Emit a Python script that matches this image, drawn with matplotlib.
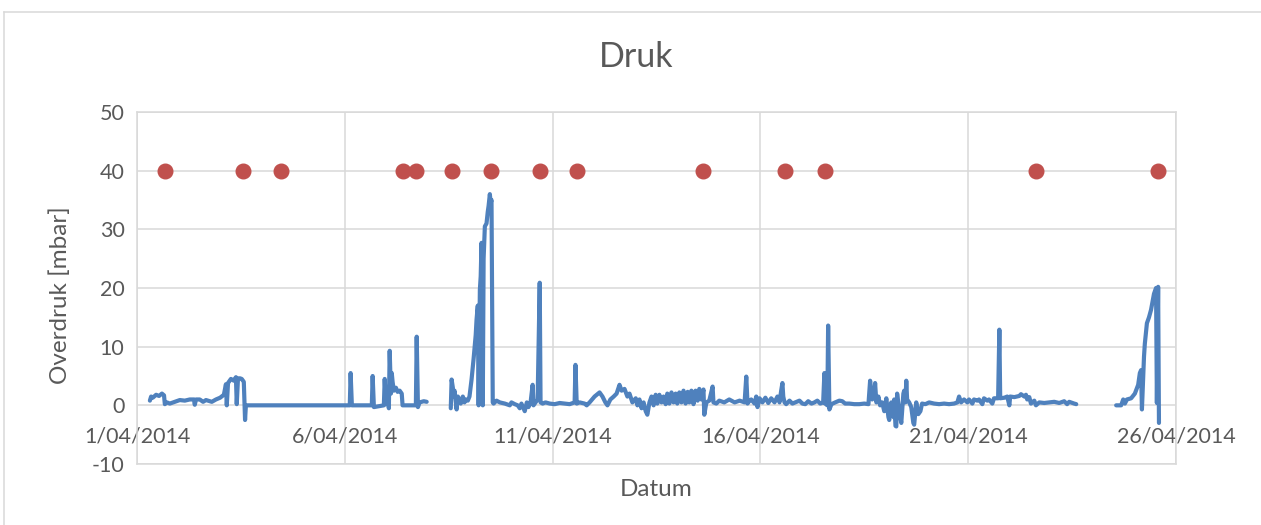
import numpy as np
import matplotlib
matplotlib.use("Agg")
import matplotlib.pyplot as plt
from matplotlib.lines import Line2D

# ---- data (time in days since 1/04/2014 00:00) ----
seg1_days = [0.31, 0.34, 0.38, 0.46, 0.53, 0.60, 0.65, 0.67, 0.72, 0.79, 0.91, 1.03, 1.15, 1.27,
             1.37, 1.39, 1.42, 1.51, 1.59, 1.66, 1.80, 1.90, 2.00, 2.09, 2.14, 2.16, 2.19, 2.26,
             2.33, 2.38, 2.40, 2.43, 2.48, 2.52, 2.57, 2.60, 2.62,
             5.12, 5.14, 5.17, 5.65, 5.67, 5.70, 5.94, 5.96, 5.99, 6.03, 6.06, 6.08, 6.11, 6.13,
             6.15, 6.18, 6.23, 6.27, 6.32, 6.37, 6.39, 6.71, 6.73, 6.76, 6.80, 6.90, 6.97]
seg1_vals = [0.8, 1.5, 1.3, 1.8, 1.6, 2.0, 1.7, 0.2, 0.5, 0.3, 0.6, 0.9, 0.8, 1.0,
             1.0, 0.1, 1.0, 1.0, 0.6, 0.9, 0.6, 1.0, 1.3, 1.8, 3.6, 0.0, 3.8, 4.5,
             4.2, 4.8, 0.2, 4.6, 4.6, 4.5, 4.0, -2.5, 0.0,
             0.0, 5.5, 0.0, 0.0, 5.0, -0.3, 0.0, 4.5, 0.2, 2.0, -0.5, 9.3, 2.0, 5.5,
             4.0, 2.5, 3.0, 2.3, 2.5, 2.0, 0.0, 0.0, 11.7, -0.3, 0.5, 0.7, 0.6]

seg2_days = [7.55, 7.57, 7.60, 7.62, 7.64, 7.67, 7.69, 7.72, 7.76, 7.79, 7.84, 7.88, 7.91, 7.96,
             8.00, 8.05, 8.10, 8.15, 8.17, 8.20, 8.22, 8.25, 8.27, 8.29, 8.32, 8.34, 8.37, 8.41,
             8.44, 8.46, 8.49, 8.51, 8.53, 8.56, 8.58, 8.65, 8.73, 8.85, 8.97, 9.01, 9.09, 9.16,
             9.21, 9.25, 9.33, 9.38, 9.42, 9.47, 9.52, 9.54, 9.59, 9.64, 9.69, 9.71, 9.76, 9.83,
             9.93, 10.05, 10.17, 10.29, 10.41, 10.53, 10.55, 10.58, 10.65, 10.77, 10.82, 10.89,
             11.01, 11.13, 11.20, 11.27, 11.32, 11.39, 11.47, 11.54, 11.61, 11.66, 11.73, 11.80,
             11.85, 11.92, 12.00, 12.04, 12.09, 12.14, 12.19, 12.24, 12.28, 12.33, 12.38, 12.43,
             12.48, 12.52, 12.57, 12.62, 12.67, 12.72, 12.76, 12.81, 12.86, 12.91, 12.96, 13.00,
             13.05, 13.10, 13.15, 13.20, 13.25, 13.29, 13.34, 13.39, 13.44, 13.49, 13.53, 13.58,
             13.63, 13.65, 13.70, 13.77, 13.85, 13.87, 13.94, 14.01, 14.13, 14.25, 14.38, 14.50,
             14.62, 14.66, 14.69, 14.74, 14.78, 14.86, 14.90, 14.93, 14.98, 15.05, 15.12, 15.19,
             15.26, 15.34, 15.41, 15.46, 15.50, 15.53, 15.55, 15.58, 15.62, 15.70, 15.77, 15.84,
             15.94, 16.01, 16.08, 16.15, 16.23, 16.30, 16.37, 16.44, 16.51, 16.54, 16.56, 16.61,
             16.63, 16.66, 16.71, 16.80, 16.90, 16.97, 17.04, 17.14, 17.26, 17.38, 17.50, 17.60,
             17.64, 17.69, 17.74, 17.76, 17.79, 17.84, 17.88, 17.93, 17.98, 18.03, 18.08, 18.10,
             18.15, 18.20, 18.22, 18.25, 18.27, 18.29, 18.34, 18.39, 18.44, 18.46, 18.49, 18.51,
             18.53, 18.58, 18.63, 18.68, 18.70, 18.75, 18.80, 18.85, 18.89, 18.97, 19.06, 19.18,
             19.30, 19.42, 19.54, 19.66, 19.74, 19.78, 19.83, 19.90, 19.98, 20.02, 20.10, 20.14,
             20.22, 20.26, 20.34, 20.38, 20.46, 20.50, 20.58, 20.62, 20.72, 20.75, 20.77, 20.87,
             20.94, 20.99, 21.01, 21.11, 21.23, 21.27, 21.35, 21.39, 21.42, 21.47, 21.51, 21.59,
             21.63, 21.71, 21.83, 21.95, 22.07, 22.19, 22.31, 22.38, 22.43, 22.55, 22.60]
seg2_vals = [-0.5, 4.4, 3.0, 1.5, 2.5, 0.5, -0.7, 1.5, 1.0, 0.3, 1.5, 0.5, 1.0, 0.8,
             1.5, 4.4, 8.0, 12.0, 14.6, 17.0, 0.0, 19.7, 22.0, 27.7, 0.0, 25.0, 30.5, 31.0,
             33.0, 34.0, 36.0, 34.5, 35.0, 0.5, 0.3, 0.8, 0.5, 0.3, 0.0, 0.5, 0.2, 0.0,
             -0.5, 0.3, -1.0, 0.5, -0.3, 0.5, 3.5, 0.0, 0.5, 1.0, 20.9, 0.5, 0.3, 0.5,
             0.3, 0.2, 0.4, 0.3, 0.2, 0.5, 6.9, 0.3, 0.5, 0.3, 0.0, 0.5,
             1.5, 2.2, 1.5, 0.5, 0.0, 1.0, 1.5, 2.0, 3.5, 2.5, 2.8, 1.5,
             2.0, 0.5, 1.2, 0.0, 1.0, -0.5, 0.5, -1.0, -1.6, 0.5, 1.5, 0.0,
             1.8, 0.3, 1.8, 0.5, 1.5, 0.2, 2.0, 0.3, 2.2, 0.5, 2.0, 0.3,
             2.2, 0.5, 2.5, 0.3, 2.3, 0.5, 2.5, 0.2, 2.5, 0.8, 2.8, 1.0,
             2.7, -1.6, 0.5, 0.8, 3.2, 0.5, 0.3, 0.8, 0.5, 1.0, 0.5, 0.8,
             0.5, 4.9, 0.3, 0.8, 1.0, 0.3, 1.5, -0.3, 1.2, 0.5, 1.3, 0.4,
             1.2, 0.5, 1.5, 0.5, 2.5, 3.8, 1.5, 0.5, 0.2, 0.8, 0.3, 0.5,
             0.8, 0.3, 0.2, 0.7, 0.3, 0.5, 0.8, 0.3, 0.5, 5.5, 0.3, 0.0,
             13.6, -0.7, 0.2, 0.5, 0.8, 0.7, 0.3, 0.3, 0.2, 0.2, 0.3, 0.2,
             4.2, 1.0, 1.5, 3.8, 0.5, 1.5, 0.0, 0.5, -1.0, 1.2, -2.0, -2.5,
             0.5, -2.0, 1.0, -3.5, -3.6, 2.0, -1.0, -3.0, 2.0, 2.5, 0.5, 4.2,
             1.0, 0.5, -0.3, -3.0, -3.3, 0.5, -1.5, -1.0, 0.3, 0.2, 0.5, 0.3,
             0.2, 0.3, 0.2, 0.3, 0.5, 1.5, 0.5, 1.0, 0.5, 1.0, 0.3, 1.0,
             0.8, 1.0, 0.2, 1.2, 0.8, 1.0, 0.3, 1.2, 1.2, 12.9, 1.2, 1.3,
             1.5, 0.0, 1.5, 1.4, 1.6, 1.9, 1.5, 1.8, 1.0, 1.4, 0.3, 0.8,
             0.0, 0.5, 0.4, 0.5, 0.6, 0.4, 0.7, 0.2, 0.6, 0.3, 0.2]

seg3_days = [23.56, 23.68, 23.73, 23.77, 23.82, 23.92, 24.01, 24.09, 24.13, 24.16, 24.18, 24.23,
             24.25, 24.30, 24.35, 24.40, 24.47, 24.52, 24.54, 24.57, 24.59]
seg3_vals = [0.0, 0.0, 1.0, 0.3, 1.0, 1.2, 2.0, 3.5, 5.5, 6.0, -0.7, 8.3,
             10.5, 14.0, 15.0, 16.3, 19.0, 20.0, 0.4, 20.2, -3.0]

event_days = [0.67, 2.55, 3.46, 6.39, 6.71, 7.57, 8.51, 9.69, 10.58, 13.63, 15.58, 16.56, 21.63, 24.57]
event_level = 40

x_tick_days = [0, 5, 10, 15, 20, 25]
x_tick_labels = ["1/04/2014", "6/04/2014", "11/04/2014", "16/04/2014", "21/04/2014", "26/04/2014"]
y_ticks = [-10, 0, 10, 20, 30, 40, 50]

title = "Druk"
xlabel = "Datum"
ylabel = "Overdruk [mbar]"

# ---- style ----
plt.rcParams['font.family'] = ['Lato', 'DejaVu Sans']
plt.rcParams['axes.unicode_minus'] = False
txt = '#595959'
grid_c = '#D9D9D9'
blue = '#4F81BD'
red = '#C0504D'

W, H = 1261, 525
fig = plt.figure(figsize=(W / 100, H / 100), dpi=100)
ax = fig.add_axes([137 / W, 61 / H, (1176 - 137) / W, (464 - 112) / H])

# join segments with gaps
days = seg1_days + [np.nan] + seg2_days + [np.nan] + seg3_days
vals = seg1_vals + [np.nan] + seg2_vals + [np.nan] + seg3_vals
ax.plot(days, vals, color=blue, lw=3.0, solid_joinstyle='round', solid_capstyle='round', zorder=3)
ax.plot(event_days, [event_level] * len(event_days), 'o', color=red, ms=10.5, mec=red, zorder=4)

ax.set_xlim(x_tick_days[0], x_tick_days[-1])
ax.set_ylim(y_ticks[0], y_ticks[-1])
ax.set_xticks(x_tick_days)
ax.set_xticklabels(x_tick_labels)
ax.set_yticks(y_ticks)
ax.grid(True, color=grid_c, lw=1.1, zorder=0)
ax.set_axisbelow(True)
for s in ax.spines.values():
    s.set_color(grid_c)
    s.set_linewidth(1.1)
ax.tick_params(axis='both', length=0, colors=txt, labelsize=15.5)
ax.tick_params(axis='y', pad=9)
ax.tick_params(axis='x', pad=-27)

fig.text(636 / W, 1 - 57 / H, title, ha='center', va='center', fontsize=24.5, color=txt)
fig.text(656 / W, 1 - 489 / H, xlabel, ha='center', va='center', fontsize=17.5, color=txt)
fig.text(60 / W, 1 - 295 / H, ylabel, ha='center', va='center', rotation=90, fontsize=17.5, color=txt)

# chart-area border
fig.add_artist(Line2D([4 / W, 4 / W], [0, 1 - 12 / H], color=grid_c, lw=1.1))
fig.add_artist(Line2D([4 / W, 1], [1 - 12 / H, 1 - 12 / H], color=grid_c, lw=1.1))

fig.savefig("out.png", dpi=100)
